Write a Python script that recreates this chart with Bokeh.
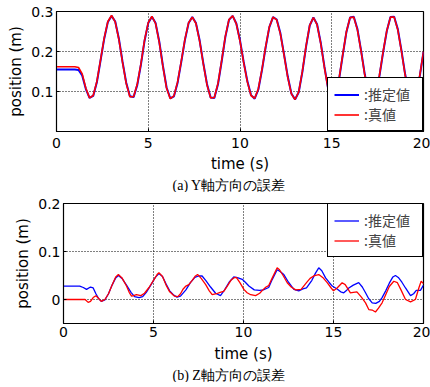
from bokeh.plotting import figure
from bokeh.models import Range1d, FixedTicker, Title, Legend, LegendItem
from bokeh.embed import file_html
from bokeh.resources import INLINE

# ---------------- data ----------------
# (a) Y axis: sampled every 0.2 s
y_time = [i / 5 for i in range(101)]
y_true = [
    0.162, 0.162, 0.162, 0.162, 0.162, 0.162, 0.160, 0.144, 0.108, 0.084,
    0.090, 0.125, 0.179, 0.234, 0.275, 0.290, 0.274, 0.230, 0.172, 0.120,
    0.087, 0.087, 0.118, 0.169, 0.229, 0.272, 0.288, 0.270, 0.223, 0.162,
    0.108, 0.082, 0.089, 0.124, 0.176, 0.231, 0.272, 0.286, 0.270, 0.226,
    0.169, 0.117, 0.084, 0.085, 0.120, 0.177, 0.238, 0.280, 0.289, 0.269,
    0.226, 0.172, 0.124, 0.090, 0.083, 0.107, 0.156, 0.213, 0.262, 0.286,
    0.279, 0.244, 0.191, 0.136, 0.094, 0.080, 0.099, 0.151, 0.214, 0.266,
    0.285, 0.267, 0.220, 0.160, 0.107, 0.081, 0.090, 0.133, 0.193, 0.250,
    0.285, 0.286, 0.254, 0.200, 0.141, 0.097, 0.080, 0.096, 0.141, 0.200,
    0.252, 0.286, 0.286, 0.254, 0.200, 0.141, 0.097, 0.080, 0.096, 0.141,
    0.200,
]
y_est = [
    0.155, 0.155, 0.155, 0.155, 0.155, 0.155, 0.154, 0.140, 0.106, 0.084,
    0.089, 0.123, 0.177, 0.232, 0.274, 0.289, 0.275, 0.232, 0.174, 0.122,
    0.088, 0.086, 0.116, 0.167, 0.227, 0.271, 0.287, 0.271, 0.225, 0.164,
    0.110, 0.083, 0.088, 0.122, 0.174, 0.229, 0.271, 0.286, 0.271, 0.228,
    0.171, 0.119, 0.085, 0.084, 0.118, 0.175, 0.236, 0.279, 0.289, 0.270,
    0.228, 0.174, 0.126, 0.091, 0.082, 0.105, 0.154, 0.211, 0.261, 0.286,
    0.280, 0.246, 0.193, 0.138, 0.095, 0.080, 0.098, 0.149, 0.212, 0.265,
    0.285, 0.268, 0.222, 0.162, 0.108, 0.081, 0.089, 0.131, 0.191, 0.249,
    0.285, 0.287, 0.256, 0.202, 0.143, 0.098, 0.080, 0.095, 0.139, 0.198,
    0.251, 0.286, 0.287, 0.256, 0.202, 0.143, 0.098, 0.080, 0.095, 0.139,
    0.199,
]

# (b) Z axis
z_est_time = [
    0, 0.9, 1.1, 1.28, 1.5, 1.65, 1.8, 1.95, 2.1, 2.3, 2.5, 2.7, 2.9, 3.05,
    3.25, 3.5, 3.75, 3.95, 4.2, 4.4, 4.6, 4.85, 5.1, 5.3, 5.5, 5.7, 5.9, 6.1,
    6.3, 6.5, 6.8, 7.05, 7.3, 7.5, 7.7, 7.9, 8.17, 8.45, 8.72, 8.95, 9.2,
    9.46, 9.7, 9.93, 10.1, 10.3, 10.6, 10.9, 11.1, 11.4, 11.6, 11.87, 12.05,
    12.24, 12.5, 12.8, 13.07, 13.3, 13.5, 13.8, 14.0, 14.18, 14.35, 14.56,
    14.75, 14.93, 15.2, 15.4, 15.57, 15.75, 15.85, 16.1, 16.4, 16.6, 16.78,
    16.95, 17.15, 17.35, 17.55, 17.7, 17.9, 18.1, 18.3, 18.44, 18.6, 18.8,
    19.0, 19.28, 19.45, 19.6, 19.83, 20.0,
]
z_est = [
    0.028, 0.028, 0.025, 0.021, 0.026, 0.024, 0.012, 0.002, -0.004, -0.001,
    0.012, 0.030, 0.045, 0.050, 0.044, 0.030, 0.015, 0.006, 0.004, 0.006,
    0.015, 0.030, 0.046, 0.054, 0.048, 0.032, 0.018, 0.010, 0.005, 0.007,
    0.020, 0.035, 0.046, 0.049, 0.049, 0.040, 0.026, 0.013, 0.008, 0.020,
    0.036, 0.047, 0.045, 0.042, 0.036, 0.028, 0.020, 0.019, 0.020, 0.025,
    0.042, 0.062, 0.058, 0.052, 0.036, 0.021, 0.018, 0.022, 0.024, 0.040,
    0.055, 0.066, 0.060, 0.045, 0.036, 0.028, 0.022, 0.016, 0.014, 0.020,
    0.024, 0.030, 0.035, 0.026, 0.014, 0.002, -0.007, -0.008, -0.004, 0.004,
    0.018, 0.034, 0.047, 0.050, 0.046, 0.036, 0.024, 0.008, 0.012, 0.019,
    0.019, 0.030,
]
z_true_time = [
    0, 1.2, 1.37, 1.5, 1.65, 1.8, 1.95, 2.1, 2.3, 2.5, 2.7, 2.9, 3.05, 3.25,
    3.5, 3.65, 3.78, 3.9, 4.05, 4.3, 4.5, 4.75, 5.0, 5.2, 5.3, 5.5, 5.7, 5.9,
    6.17, 6.35, 6.5, 6.65, 6.8, 6.96, 7.15, 7.33, 7.45, 7.65, 7.9, 8.1, 8.26,
    8.5, 8.7, 8.9, 9.1, 9.3, 9.46, 9.6, 9.8, 10.02, 10.2, 10.4, 10.67, 10.9,
    11.1, 11.25, 11.4, 11.6, 11.87, 12.0, 12.2, 12.43, 12.65, 12.9, 13.2,
    13.5, 13.7, 13.9, 14.18, 14.4, 14.65, 14.85, 15.0, 15.2, 15.48, 15.65,
    15.94, 16.1, 16.3, 16.55, 16.78, 16.96, 17.15, 17.33, 17.5, 17.7, 17.9,
    18.1, 18.35, 18.55, 18.75, 19.0, 19.28, 19.55, 19.75, 19.87, 20.0,
]
z_true = [
    0.000, 0.000, -0.006, -0.004, 0.004, 0.008, 0.002, -0.004, 0.000, 0.012,
    0.030, 0.047, 0.052, 0.045, 0.028, 0.015, 0.007, 0.008, 0.010, 0.008,
    0.013, 0.025, 0.040, 0.052, 0.056, 0.048, 0.030, 0.016, 0.007, 0.006,
    0.012, 0.022, 0.028, 0.031, 0.040, 0.049, 0.052, 0.044, 0.031, 0.018,
    0.010, 0.012, 0.015, 0.017, 0.028, 0.040, 0.045, 0.046, 0.035, 0.021,
    0.014, 0.010, 0.008, 0.013, 0.021, 0.026, 0.029, 0.045, 0.066, 0.062,
    0.050, 0.035, 0.026, 0.020, 0.021, 0.035, 0.044, 0.049, 0.052, 0.046,
    0.035, 0.025, 0.018, 0.024, 0.035, 0.031, 0.014, 0.015, 0.016, 0.005,
    -0.007, -0.021, -0.022, -0.026, -0.018, -0.007, 0.010, 0.027, 0.038,
    0.035, 0.020, 0.000, -0.005, 0.000, 0.025, 0.038, 0.033,
]

x_ticks = [0, 5, 10, 15, 20]
y_ticks_a = [0.1, 0.2, 0.3]
y_ticks_b = [0, 0.1, 0.2]
labels = [":推定値", ":真値"]
captions = ["(a) Y軸方向の誤差", "(b) Z軸方向の誤差"]

EST_COLOR = "#0000FF"
TRUE_COLOR = "#FF0000"
AX_FONT = "DejaVu Sans"
CJK_FONT = "Noto Sans CJK JP"
CAP_FONT = "Liberation Serif"


def style(p, yticks, xstand, lstand):
    p.xaxis.ticker = FixedTicker(ticks=x_ticks)
    p.yaxis.ticker = FixedTicker(ticks=yticks)
    p.xaxis.axis_label = "time (s)"
    p.yaxis.axis_label = "position (m)"
    for ax in (p.xaxis, p.yaxis):
        ax.axis_label_text_font = AX_FONT
        ax.axis_label_text_font_size = "15px"
        ax.axis_label_text_font_style = "normal"
        ax.axis_label_text_color = "black"
        ax.major_label_text_font = AX_FONT
        ax.major_label_text_font_size = "14px"
        ax.major_label_text_color = "black"
        ax.axis_line_color = "black"
        ax.major_tick_line_color = "black"
        ax.major_tick_in = 3
        ax.major_tick_out = 0
        ax.minor_tick_line_color = None
        ax.major_label_standoff = 3
    p.xaxis.major_label_standoff = xstand
    p.xaxis.axis_label_standoff = lstand
    p.yaxis.axis_label_standoff = 3
    p.xgrid.ticker = FixedTicker(ticks=[5, 10, 15])
    p.ygrid.ticker = FixedTicker(ticks=yticks)
    for g in (p.xgrid, p.ygrid):
        g.grid_line_color = "black"
        g.grid_line_dash = "1 2"
        g.grid_line_width = 1
        g.grid_line_alpha = 1
    p.outline_line_color = "black"
    p.outline_line_width = 1.2
    p.outline_line_alpha = 1
    p.background_fill_color = "white"
    p.border_fill_color = "white"


def add_legend(p, rb, rr, loc):
    lg = Legend(
        items=[LegendItem(label=labels[0], renderers=[rb]),
               LegendItem(label=labels[1], renderers=[rr])],
        location=loc, margin=0, padding=6, spacing=0,
        glyph_width=25, glyph_height=15, label_height=15, label_standoff=5,
        label_width=52,
        border_line_color="black", border_line_width=1, border_line_alpha=1,
        background_fill_color="white", background_fill_alpha=1,
        label_text_font=CJK_FONT, label_text_font_size="14px",
    )
    p.add_layout(lg)


def add_caption(p, text, offset):
    t = Title(text=text, align="left", offset=offset, text_font=CAP_FONT,
              text_font_size="14px", text_font_style="normal",
              text_color="black", standoff=0)
    p.add_layout(t, "below")


# ---------------- (a) ----------------
p1 = figure(frame_width=367, frame_height=120,
            x_range=Range1d(0, 20), y_range=Range1d(0, 0.3),
            min_border_left=56, min_border_right=7, min_border_top=11,
            min_border_bottom=2,
            output_backend="svg", toolbar_location=None)
style(p1, y_ticks_a, 6, 4)
b1 = p1.line(y_time, y_est, line_color=EST_COLOR, line_width=2)
r1 = p1.line(y_time, y_true, line_color=TRUE_COLOR, line_width=1.6)
add_legend(p1, b1, r1, "bottom_right")
add_caption(p1, captions[0], 116)

# ---------------- (b) ----------------
p2 = figure(frame_width=360, frame_height=120,
            x_range=Range1d(0, 20), y_range=Range1d(-0.05, 0.2),
            min_border_left=63, min_border_right=7, min_border_top=11,
            min_border_bottom=2,
            output_backend="svg", toolbar_location=None)
style(p2, y_ticks_b, 3, 5)
b2 = p2.line(z_est_time, z_est, line_color=EST_COLOR, line_width=1.3)
r2 = p2.line(z_true_time, z_true, line_color=TRUE_COLOR, line_width=1.3)
add_legend(p2, b2, r2, "top_right")
add_caption(p2, captions[1], 109)

open("out.html", "w").write(file_html([p1, p2], INLINE))
